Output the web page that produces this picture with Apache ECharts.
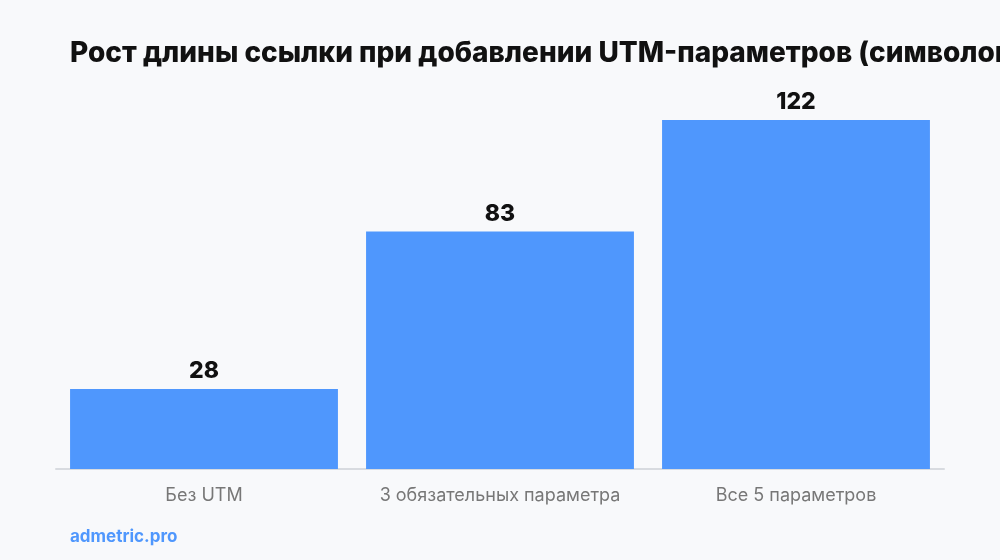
<!DOCTYPE html>
<html><head><meta charset="utf-8">
<script src="https://cdn.jsdelivr.net/npm/echarts@6/dist/echarts.min.js"></script>
<style>html,body{margin:0;padding:0;background:#f8f9fb}#c{width:1000px;height:560px}</style>
</head><body><div id="c"></div>
<script>
const categories = ['Без UTM', '3 обязательных параметра', 'Все 5 параметров'];
const values = [28, 83, 122];
const chart = echarts.init(document.getElementById('c'));
chart.setOption({
  backgroundColor: '#f8f9fb',
  title: [{
    text: 'Рост длины ссылки при добавлении UTM-параметров (символов)',
    left: 70, top: 40, padding: 0,
    textStyle: {fontFamily: 'Inter', fontWeight: 800, fontSize: 28, color: '#111'}
  }, {
    text: 'admetric.pro', left: 70, top: 528, padding: 0,
    textStyle: {fontFamily: 'Inter', fontWeight: 700, fontSize: 17, color: '#4f97fd'}
  }],
  grid: {left: 56, right: 56, top: 120, bottom: 91},
  xAxis: {
    type: 'category', data: categories,
    axisTick: {show: false},
    axisLine: {lineStyle: {color: '#d8dbe0', width: 2}},
    axisLabel: {interval: 0, fontFamily: 'Inter', fontSize: 18, color: '#777', margin: 18}
  },
  yAxis: {type: 'value', min: 0, max: 122, show: false, splitLine: {show: false}},
  series: [{
    type: 'bar', data: values, barCategoryGap: '9.5%',
    itemStyle: {color: '#4f97fd'},
    label: {show: true, position: 'top', distance: 6,
      fontFamily: 'Inter', fontWeight: 800, fontSize: 23, color: '#111'}
  }]
});
</script></body></html>
